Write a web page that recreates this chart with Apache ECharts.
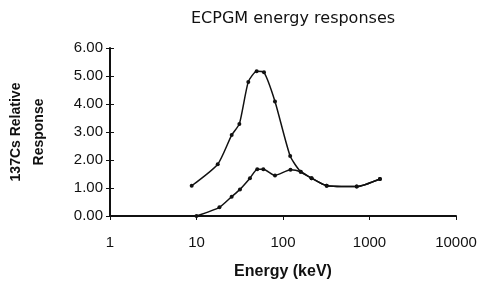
<!DOCTYPE html>
<html>
<head>
<meta charset="utf-8">
<script src="https://cdn.jsdelivr.net/npm/echarts@6/dist/echarts.min.js"></script>
<style>
  html, body { margin: 0; padding: 0; background: #fff; }
  #chart { width: 479px; height: 284px; }
</style>
</head>
<body>
<div id="chart"></div>
<script>
// energies (keV) and relative responses
const upperEnergy = [8.8, 17.6, 25.5, 31.3, 39.7, 49.6, 60.3, 80.8, 121, 160, 214, 320, 711, 1320];
const upperResp   = [1.08, 1.85, 2.89, 3.29, 4.79, 5.17, 5.13, 4.09, 2.14, 1.58, 1.35, 1.08, 1.05, 1.32];
const lowerEnergy = [10, 18.4, 25.5, 31.8, 41.5, 50.4, 59.2, 80.8, 122, 160, 214, 320, 711, 1320];
const lowerResp   = [0.0, 0.31, 0.69, 0.95, 1.35, 1.67, 1.67, 1.45, 1.65, 1.58, 1.35, 1.08, 1.05, 1.32];
const yTicks = [0, 1, 2, 3, 4, 5, 6];
const xTicks = [1, 10, 100, 1000, 10000];

const pairs = (xs, ys) => xs.map((x, i) => [x, ys[i]]);

let myChart = echarts.init(document.getElementById('chart'));
const font = 'Liberation Sans, Arial, sans-serif';
const ink = '#111';

// line style shared by both curves
const curve = data => ({
    type: 'line',
    data: data,
    smooth: 0.2,
    symbol: 'circle',
    symbolSize: 4,
    itemStyle: { color: ink },
    lineStyle: { color: ink, width: 1.5 }
});

const options = {
    animation: false,
    title: {
        text: 'ECPGM energy responses',
        left: 186,
        top: 6,
        textStyle: { fontFamily: 'DejaVu Sans', fontSize: 16, fontWeight: 'normal', color: ink }
    },
    grid: { left: 110, right: 23, top: 48, bottom: 68, outerBoundsMode: 'none', containLabel: false },
    xAxis: {
        type: 'log',
        logBase: 10,
        min: 1,
        max: 10000,
        name: 'Energy (keV)',
        nameLocation: 'middle',
        nameGap: 48,
        nameTextStyle: { fontFamily: font, fontSize: 16, fontWeight: 'bold', color: ink },
        axisLine: { lineStyle: { color: ink, width: 2 } },
        axisTick: { length: 4, lineStyle: { color: ink } },
        axisLabel: {
            fontFamily: font, fontSize: 15, color: ink, margin: 19,
            formatter: v => xTicks.includes(v) ? String(v) : ''
        },
        minorTick: { show: false },
        splitLine: { show: false }
    },
    yAxis: [
        {
            type: 'value',
            min: 0,
            max: 6,
            interval: 1,
            name: '137Cs Relative\nResponse',
            nameLocation: 'middle',
            nameGap: 59,
            nameTextStyle: { fontFamily: font, fontSize: 14, fontWeight: 'bold', color: ink, lineHeight: 23 },
            axisLine: { show: true, lineStyle: { color: ink, width: 2 } },
            axisTick: { show: true, length: 4, lineStyle: { color: ink } },
            axisLabel: {
                fontFamily: font, fontSize: 15, color: ink, margin: 7,
                formatter: v => yTicks.includes(v) ? v.toFixed(2) : ''
            },
            splitLine: { show: false }
        },
        {
            // same scale again, only to draw the inner half of the ticks
            type: 'value',
            position: 'left',
            min: 0,
            max: 6,
            interval: 1,
            axisLine: { show: false },
            axisTick: { show: true, inside: true, length: 4, lineStyle: { color: ink } },
            axisLabel: { show: false },
            splitLine: { show: false }
        }
    ],
    series: [
        curve(pairs(upperEnergy, upperResp)),
        curve(pairs(lowerEnergy, lowerResp))
    ]
};
myChart.setOption(options);
</script>
</body>
</html>
